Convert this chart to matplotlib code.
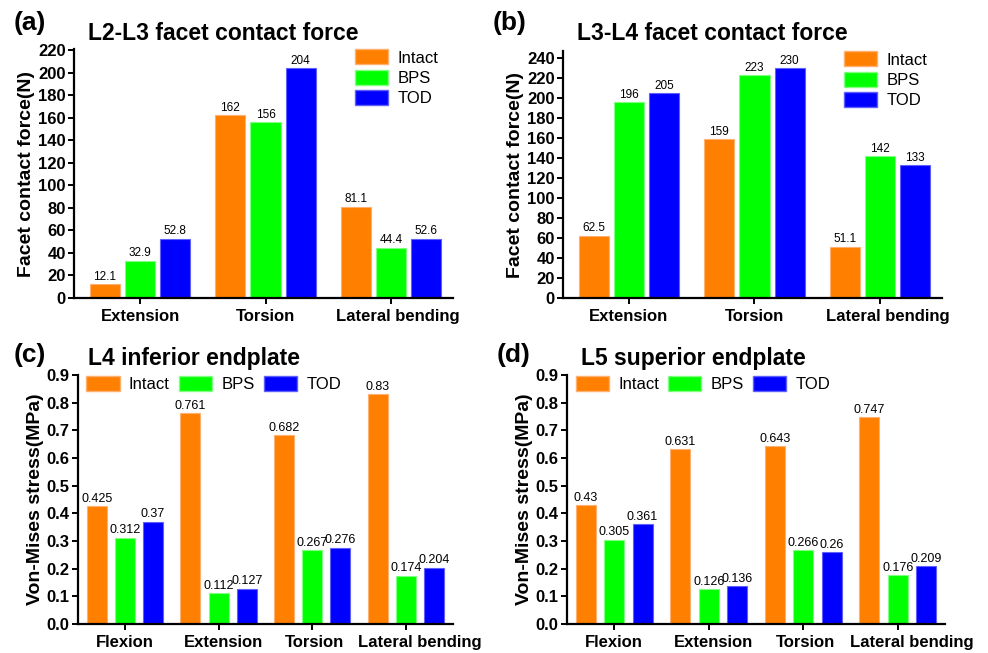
import numpy as np
import matplotlib
matplotlib.use("Agg")
import matplotlib.pyplot as plt
import matplotlib.transforms as mtransforms
from matplotlib.patches import Patch

plt.rcParams['font.family'] = ['Liberation Sans', 'DejaVu Sans']

groups = ['Intact', 'BPS', 'TOD']
colors = ['#FF7F00', '#00FF00', '#0000FF']
edges = ['#FFB070', '#80FF80', '#6060FF']

cats_ab = ['Extension', 'Torsion', 'Lateral bending']
a_intact = [12.1, 162, 81.1]
a_bps = [32.9, 156, 44.4]
a_tod = [52.8, 204, 52.6]
a_labels = [['12.1', '162', '81.1'], ['32.9', '156', '44.4'], ['52.8', '204', '52.6']]

b_intact = [62.5, 159, 51.1]
b_bps = [196, 223, 142]
b_tod = [205, 230, 133]
b_labels = [['62.5', '159', '51.1'], ['196', '223', '142'], ['205', '230', '133']]

cats_cd = ['Flexion', 'Extension', 'Torsion', 'Lateral bending']
c_intact = [0.425, 0.761, 0.682, 0.83]
c_bps = [0.312, 0.112, 0.267, 0.174]
c_tod = [0.37, 0.127, 0.276, 0.204]
c_labels = [['0.425', '0.761', '0.682', '0.83'], ['0.312', '0.112', '0.267', '0.174'], ['0.37', '0.127', '0.276', '0.204']]

d_intact = [0.43, 0.631, 0.643, 0.747]
d_bps = [0.305, 0.126, 0.266, 0.176]
d_tod = [0.361, 0.136, 0.26, 0.209]
d_labels = [['0.43', '0.631', '0.643', '0.747'], ['0.305', '0.126', '0.266', '0.176'], ['0.361', '0.136', '0.26', '0.209']]

fig = plt.figure(figsize=(9.88, 6.53), dpi=100)


def panel(rect, cats, series, labels, width, step, ylim, yticks, yfmt, ylabel,
          title, tag, tagpos, titlepos, xlim, horiz_legend, vfont, xshift):
    ax = fig.add_axes(rect)
    x = np.arange(len(cats))
    for i, vals in enumerate(series):
        bars = ax.bar(x + (i - 1) * step, vals, width, color=colors[i],
                      edgecolor=edges[i], linewidth=0.8, label=groups[i])
        for b, t in zip(bars, labels[i]):
            ax.text(b.get_x() + b.get_width() / 2, b.get_height() + ylim[1] * 0.006, t,
                    ha='center', va='bottom', fontsize=vfont)
    ax.set_xlim(*xlim)
    ax.set_ylim(*ylim)
    ax.set_yticks(yticks)
    ax.set_yticklabels([yfmt.format(v) for v in yticks], fontsize=12, fontweight='bold')
    ax.set_xticks(x)
    ax.set_xticklabels(cats, fontsize=12, fontweight='bold')
    ax.set_ylabel(ylabel, fontsize=14, fontweight='bold', labelpad=2)
    for s in ['top', 'right']:
        ax.spines[s].set_visible(False)
    for s in ['left', 'bottom']:
        ax.spines[s].set_linewidth(1.6)
    ax.tick_params(axis='both', direction='out', length=4, width=1.4, pad=2)
    ax.tick_params(axis='x', pad=4)
    # nudge x labels right a little, like the original
    for tick, dx in zip(ax.xaxis.get_major_ticks(), xshift):
        lab = tick.label1
        lab.set_transform(lab.get_transform() + mtransforms.ScaledTranslation(dx / 100, 0, fig.dpi_scale_trans))
    handles = [Patch(facecolor=colors[i], edgecolor=edges[i], label=groups[i]) for i in range(3)]
    if horiz_legend:
        ax.legend(handles=handles, loc='upper left', bbox_to_anchor=(0.005, 1.024), ncol=3,
                  frameon=False, fontsize=12, handlelength=2.0, handleheight=1.0,
                  columnspacing=0.55, handletextpad=0.55, borderaxespad=0)
    else:
        ax.legend(handles=handles, loc='upper right', bbox_to_anchor=(0.979, 1.025),
                  frameon=False, fontsize=12, handlelength=2.0, handleheight=1.0,
                  labelspacing=0.25, handletextpad=0.55, borderaxespad=0)
    fig.text(tagpos[0], tagpos[1], tag, fontsize=19, fontweight='bold', va='center', ha='left')
    fig.text(titlepos[0], titlepos[1], title, fontsize=16.5, fontweight='bold', va='center', ha='left')
    return ax


panel([0.0749, 0.5436, 0.3836, 0.3814], cats_ab, [a_intact, a_bps, a_tod], a_labels,
      0.24, 0.28, (0, 221), np.arange(0, 221, 20), '{:.0f}', 'Facet contact force(N)',
      'L2-L3 facet contact force', '(a)', (0.014, 1 - 23 / 653), (0.089, 1 - 33 / 653),
      (-0.526, 2.494), False, 8.5, [0, 0, 7])

panel([0.5698, 0.5436, 0.3836, 0.3783], cats_ab, [b_intact, b_bps, b_tod], b_labels,
      0.24, 0.28, (0, 247), np.arange(0, 241, 20), '{:.0f}', 'Facet contact force(N)',
      'L3-L4 facet contact force', '(b)', (0.499, 1 - 23 / 653), (0.584, 1 - 33 / 653),
      (-0.526, 2.494), False, 8.5, [0, 0, 8])

panel([0.0789, 0.0444, 0.3796, 0.3813], cats_cd, [c_intact, c_bps, c_tod], c_labels,
      0.213, 0.30, (0, 0.9), np.round(np.arange(0, 0.91, 0.1), 1), '{:.1f}', 'Von-Mises stress(MPa)',
      'L4 inferior endplate', '(c)', (0.014, 1 - 355 / 653), (0.089, 1 - 359 / 653),
      (-0.5, 3.5), True, 9, [0, 5, 2, 14])

panel([0.5739, 0.0444, 0.3826, 0.3813], cats_cd, [d_intact, d_bps, d_tod], d_labels,
      0.213, 0.30, (0, 0.9), np.round(np.arange(0, 0.91, 0.1), 1), '{:.1f}', 'Von-Mises stress(MPa)',
      'L5 superior endplate', '(d)', (0.503, 1 - 355 / 653), (0.588, 1 - 359 / 653),
      (-0.5, 3.5), True, 9, [0, 5, 2, 14])

fig.savefig('out.png', dpi=100)
